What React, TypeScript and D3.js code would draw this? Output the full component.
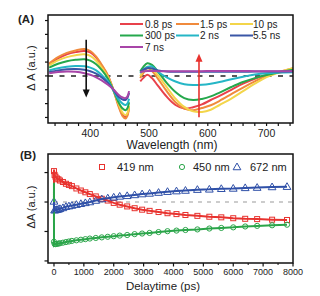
import React from "react";
import * as d3 from "d3";

// ---------- Panel A data ----------
const wlA1 = [330, 345, 360, 375, 390, 400, 410, 420, 430, 440, 448, 455, 460, 463, 466];
const wlA2 = [485, 490, 497, 505, 515, 530, 545, 560, 575, 590, 605, 620, 640, 660, 680, 700, 720, 745];
const spectraLabels = ["0.8 ps", "1.5 ps", "10 ps", "300 ps", "2 ns", "5.5 ns", "7 ns"];
const spectraColors = ["#e8414b", "#f08a3c", "#f3d54a", "#25a84c", "#25b6c6", "#3a56a6", "#a845a8"];

const ps08A1 = [0.42, 0.63, 0.78, 0.86, 0.9, 0.85, 0.66, 0.35, 0.0, -0.55, -1.05, -1.4, -1.48, -1.4, -1.1];
const ps15A1 = [0.46, 0.68, 0.83, 0.92, 0.97, 0.9, 0.7, 0.38, 0.02, -0.55, -1.1, -1.45, -1.54, -1.45, -1.15];
const ps10A1 = [0.38, 0.56, 0.68, 0.75, 0.78, 0.72, 0.55, 0.28, -0.05, -0.55, -1.0, -1.33, -1.42, -1.35, -1.08];
const ps300A1 = [0.3, 0.44, 0.53, 0.58, 0.6, 0.55, 0.42, 0.2, -0.1, -0.55, -0.95, -1.18, -1.24, -1.18, -0.95];
const ns2A1 = [0.2, 0.28, 0.33, 0.36, 0.35, 0.3, 0.2, 0.02, -0.2, -0.55, -0.85, -1.0, -1.05, -1.0, -0.82];
const ns55A1 = [0.14, 0.2, 0.24, 0.25, 0.22, 0.17, 0.08, -0.06, -0.25, -0.52, -0.75, -0.85, -0.87, -0.8, -0.62];
const ns7A1 = [0.1, 0.14, 0.16, 0.15, 0.1, 0.04, -0.05, -0.17, -0.32, -0.5, -0.68, -0.78, -0.8, -0.75, -0.55];

const ps08A2 = [-0.2, -0.08, 0.04, -0.08, -0.35, -0.75, -1.05, -1.18, -1.13, -1.03, -0.87, -0.72, -0.5, -0.28, -0.1, 0.03, 0.12, 0.2];
const ps15A2 = [-0.08, 0.1, 0.28, 0.18, -0.1, -0.55, -0.95, -1.18, -1.24, -1.16, -1.06, -0.9, -0.66, -0.42, -0.2, 0.0, 0.14, 0.28];
const ps10A2 = [0.0, 0.17, 0.33, 0.26, 0.02, -0.4, -0.82, -1.12, -1.28, -1.3, -1.22, -1.05, -0.82, -0.55, -0.28, -0.04, 0.12, 0.28];
const ps300A2 = [0.16, 0.32, 0.46, 0.4, 0.16, -0.25, -0.58, -0.8, -0.87, -0.83, -0.74, -0.6, -0.4, -0.22, -0.08, 0.03, 0.12, 0.22];
const ns2A2 = [0.1, 0.22, 0.32, 0.34, 0.15, -0.05, -0.2, -0.3, -0.33, -0.32, -0.28, -0.22, -0.12, -0.03, 0.05, 0.1, 0.12, 0.13];
const ns55A2 = [0.15, 0.22, 0.28, 0.27, 0.2, 0.16, 0.15, 0.15, 0.15, 0.15, 0.15, 0.15, 0.15, 0.15, 0.16, 0.16, 0.16, 0.17];
const ns7A2 = [0.13, 0.16, 0.18, 0.18, 0.17, 0.17, 0.17, 0.17, 0.17, 0.17, 0.18, 0.18, 0.18, 0.18, 0.17, 0.17, 0.17, 0.17];

const seriesA1 = [ps08A1, ps15A1, ps10A1, ps300A1, ns2A1, ns55A1, ns7A1];
const seriesA2 = [ps08A2, ps15A2, ps10A2, ps300A2, ns2A2, ns55A2, ns7A2];
const xTicksA = [400, 500, 600, 700];

// arrows: [wavelength, from value, to value]
const arrowDown = [393, 1.31, -0.78];
const arrowUp = [585, -1.49, 0.8];

// ---------- Panel B data ----------
const timesB = [0, 20, 50, 100, 150, 200, 300, 400, 500, 600, 750, 900, 1050, 1200, 1400, 1600, 1800, 2000, 2200, 2450, 2700, 2950, 3200, 3500, 3800, 4100, 4400, 4800, 5200, 5600, 6000, 6400, 6800, 7300, 7800];
const nm419 = [1.05, 0.92, 0.86, 0.8, 0.77, 0.73, 0.68, 0.62, 0.58, 0.54, 0.46, 0.39, 0.33, 0.27, 0.19, 0.11, 0.05, -0.03, -0.09, -0.15, -0.21, -0.26, -0.3, -0.34, -0.38, -0.41, -0.44, -0.47, -0.5, -0.52, -0.55, -0.57, -0.58, -0.6, -0.61];
const nm450 = [-1.35, -1.42, -1.43, -1.42, -1.41, -1.4, -1.38, -1.36, -1.34, -1.32, -1.3, -1.28, -1.26, -1.24, -1.22, -1.2, -1.18, -1.16, -1.14, -1.12, -1.09, -1.07, -1.05, -1.02, -0.99, -0.97, -0.95, -0.93, -0.9, -0.88, -0.86, -0.83, -0.81, -0.79, -0.77];
const nm672 = [0.02, -0.28, -0.27, -0.26, -0.25, -0.23, -0.2, -0.16, -0.14, -0.12, -0.09, -0.06, -0.03, 0.0, 0.05, 0.1, 0.13, 0.16, 0.19, 0.21, 0.24, 0.27, 0.29, 0.32, 0.35, 0.37, 0.39, 0.42, 0.43, 0.45, 0.46, 0.48, 0.49, 0.51, 0.52];
// values at time zero that the fit lines jump through
const jump419 = [0, 1.1];
const jump450 = [0.65, -1.45];
const jump672 = [0, -0.3];
const xTicksB = [0, 1000, 2000, 3000, 4000, 5000, 6000, 7000, 8000];
const yTicksB = [-2, -1, 0, 1];
const legendB = ["419 nm", "450 nm", "672 nm"];
const colorsB = ["#e8322e", "#2aa549", "#2f50a8"];

const FONT = "'Liberation Sans', Arial, sans-serif";

export default function App() {
  // Panel A scales
  const xA = d3.scaleLinear().domain([328, 745]).range([48, 293]);
  const yA = d3.scaleLinear().domain([-1.7, 2.2]).range([123, 15]);
  const lineA1 = d3.line<number>().x((_, i) => xA(wlA1[i])).y((d) => yA(d)).curve(d3.curveCatmullRom);
  const lineA2 = d3.line<number>().x((_, i) => xA(wlA2[i])).y((d) => yA(d)).curve(d3.curveCatmullRom);
  const minorA = d3.range(340, 741, 20);
  const yTicksA = d3.range(-1.5, 2.01, 0.5);

  // Panel B scales
  const xB = d3.scaleLinear().domain([-200, 8000]).range([48, 293]);
  const yB = d3.scaleLinear().domain([-2.07, 1.63]).range([263, 154]);
  const fitLine = (vals: number[], jump: number[]) => {
    const pts: [number, number][] = [[0, jump[0]], [0, jump[1]]];
    timesB.forEach((t, i) => { if (i > 0) pts.push([t, vals[i]]); });
    return d3.line<[number, number]>().x((d) => xB(d[0])).y((d) => yB(d[1]))(pts) || "";
  };
  const minorB = d3.range(500, 8000, 1000);
  const seriesB = [nm419, nm450, nm672];
  const jumpsB = [jump419, jump450, jump672];
  const tri = d3.symbol().type(d3.symbolTriangle).size(26)() || "";

  const marker = (k: number, cx: number, cy: number, key: string) => {
    const c = colorsB[k];
    if (k === 0) return <rect key={key} x={cx - 2.5} y={cy - 2.5} width={5} height={5} fill="none" stroke={c} strokeWidth={1} />;
    if (k === 1) return <circle key={key} cx={cx} cy={cy} r={2.6} fill="none" stroke={c} strokeWidth={1} />;
    return <path key={key} d={tri} transform={`translate(${cx},${cy + 0.5})`} fill="none" stroke={c} strokeWidth={1} />;
  };

  const arrowHead = (x: number, y: number, dir: number, color: string) => (
    <path d={`M${x - 3.5},${y - dir * 8} L${x},${y} L${x + 3.5},${y - dir * 8} Z`} fill={color} />
  );

  return (
    <svg width={320} height={296} style={{ position: "absolute", left: 0, top: 0, background: "#fff" }} fontFamily={FONT}>
      <rect width={320} height={296} fill="#fff" />
      {/* ================= Panel A ================= */}
      <text x={18} y={23} fontSize={11.5} fontWeight="bold" fill="#222">(A)</text>
      <line x1={xA(328)} x2={xA(745)} y1={yA(0)} y2={yA(0)} stroke="#222" strokeWidth={1.5} strokeDasharray="5,6.5" />
      {seriesA1.map((s, k) => (
        <path key={"a1" + k} d={lineA1(s) || ""} fill="none" stroke={spectraColors[k]} strokeWidth={2} />
      ))}
      {seriesA2.map((s, k) => (
        <path key={"a2" + k} d={lineA2(s) || ""} fill="none" stroke={spectraColors[k]} strokeWidth={2} />
      ))}
      {/* arrows */}
      <line x1={xA(arrowDown[0])} x2={xA(arrowDown[0])} y1={yA(arrowDown[1])} y2={yA(arrowDown[2]) - 6} stroke="#111" strokeWidth={1.6} />
      {arrowHead(xA(arrowDown[0]), yA(arrowDown[2]), 1, "#111")}
      <line x1={xA(arrowUp[0])} x2={xA(arrowUp[0])} y1={yA(arrowUp[1])} y2={yA(arrowUp[2]) + 6} stroke="#e8322e" strokeWidth={1.6} />
      {arrowHead(xA(arrowUp[0]), yA(arrowUp[2]), -1, "#e8322e")}
      {/* legend A */}
      {spectraLabels.map((lab, k) => {
        const col = k % 3;
        const row = Math.floor(k / 3);
        const lx = [120, 176, 230][col];
        const tx = [145, 200, 253][col];
        const ly = 24 + row * 11.5;
        return (
          <g key={"lg" + k}>
            <line x1={lx} x2={lx + 23} y1={ly} y2={ly} stroke={spectraColors[k]} strokeWidth={2} />
            <text x={tx} y={ly + 3.5} fontSize={10} fill="#222">{lab}</text>
          </g>
        );
      })}
      {/* frame & ticks A */}
      <rect x={48} y={15} width={245} height={108} fill="none" stroke="#111" strokeWidth={1.5} />
      {minorA.map((t) => (
        <line key={"ma" + t} x1={xA(t)} x2={xA(t)} y1={123} y2={126} stroke="#111" strokeWidth={1.2} />
      ))}
      {yTicksA.map((t) => (
        <line key={"ya" + t} x1={45} x2={48} y1={yA(t)} y2={yA(t)} stroke="#111" strokeWidth={1.2} />
      ))}
      {xTicksA.map((t) => (
        <text key={"xa" + t} x={xA(t)} y={136.5} fontSize={10.5} textAnchor="middle" fill="#222">{t}</text>
      ))}
      <text x={172} y={149} fontSize={12} textAnchor="middle" fill="#222">Wavelength (nm)</text>
      <text transform="translate(35,68) rotate(-90)" fontSize={11} textAnchor="middle" fill="#222">Δ A (a.u.)</text>

      {/* ================= Panel B ================= */}
      <text x={20} y={159} fontSize={11.5} fontWeight="bold" fill="#222">(B)</text>
      <line x1={xB(0)} x2={xB(8000)} y1={yB(0)} y2={yB(0)} stroke="#999" strokeWidth={1.2} strokeDasharray="4,5" />
      {seriesB.map((s, k) => (
        <g key={"b" + k}>
          {timesB.map((t, i) => marker(k, xB(t), yB(s[i]), `m${k}-${i}`))}
        </g>
      ))}
      {seriesB.map((s, k) => (
        <path key={"bf" + k} d={fitLine(s, jumpsB[k])} fill="none" stroke={colorsB[k]} strokeWidth={2} />
      ))}
      {/* legend B */}
      {legendB.map((lab, k) => {
        const mx = [102, 182, 237][k];
        const tx = [117, 193, 250][k];
        return (
          <g key={"lb" + k}>
            {marker(k, mx, 167, "lm" + k)}
            <text x={tx} y={171} fontSize={11} fill="#222">{lab}</text>
          </g>
        );
      })}
      <rect x={48} y={154} width={245} height={109} fill="none" stroke="#111" strokeWidth={1.5} />
      {xTicksB.map((t) => (
        <line key={"tb" + t} x1={xB(t)} x2={xB(t)} y1={263} y2={266.5} stroke="#111" strokeWidth={1.2} />
      ))}
      {minorB.map((t) => (
        <line key={"mb" + t} x1={xB(t)} x2={xB(t)} y1={263} y2={265} stroke="#111" strokeWidth={1} />
      ))}
      {yTicksB.map((t) => (
        <line key={"yb" + t} x1={44.5} x2={48} y1={yB(t)} y2={yB(t)} stroke="#111" strokeWidth={1.2} />
      ))}
      {xTicksB.map((t) => (
        <text key={"xl" + t} x={xB(t)} y={275} fontSize={9} textAnchor="middle" fill="#222">{t}</text>
      ))}
      <text x={163} y={290} fontSize={11.5} textAnchor="middle" fill="#222">Delaytime (ps)</text>
      <text transform="translate(35,207) rotate(-90)" fontSize={11} textAnchor="middle" fill="#222">ΔA (a.u.)</text>
    </svg>
  );
}
